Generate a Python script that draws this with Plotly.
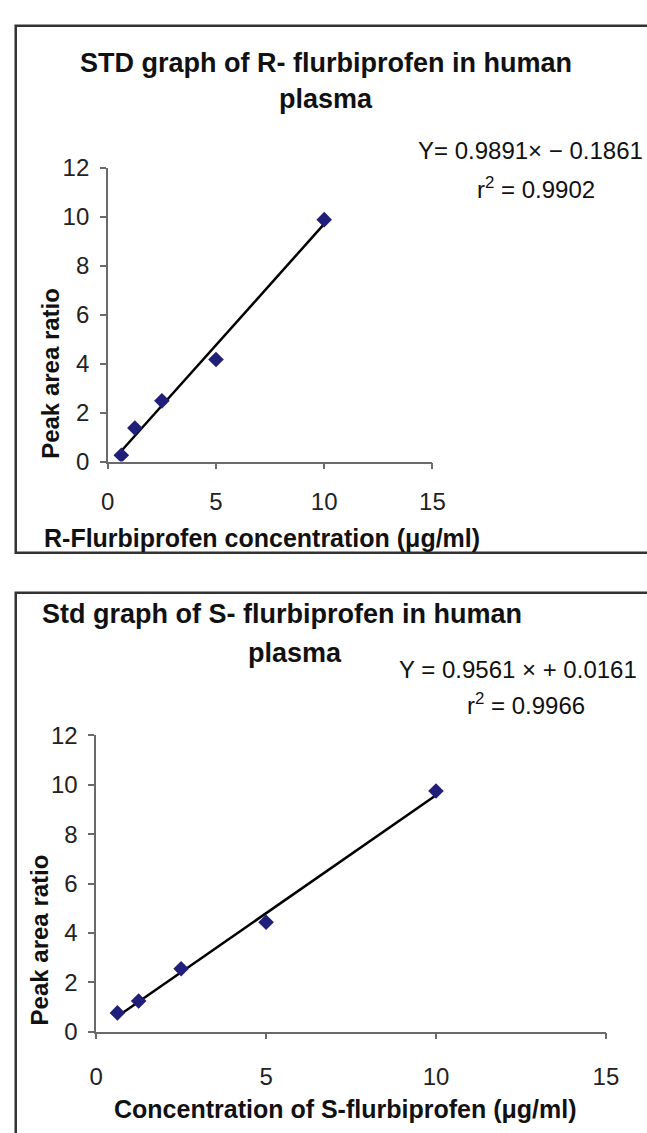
import plotly.graph_objects as go

W, H = 647, 1133

# ---- data ----
conc_r = [0.625, 1.25, 2.5, 5, 10]
ratio_r = [0.26, 1.37, 2.48, 4.17, 9.88]
slope_r, icpt_r = 0.9891, -0.1861

conc_s = [0.625, 1.25, 2.5, 5, 10]
ratio_s = [0.76, 1.24, 2.55, 4.43, 9.75]
slope_s, icpt_s = 0.9561, 0.0161

x_ticks = [0, 5, 10, 15]
y_ticks = [0, 2, 4, 6, 8, 10, 12]

FONT = "Liberation Sans, Arial, sans-serif"
MARK = "#20207a"
AX = "#6a6a6a"


def px(xp):
    return xp / W


def py(yp):
    return 1 - yp / H


fig = go.Figure()

# trend lines from the printed equations
for conc, ratio, m, b, xa, ya in [
    (conc_r, ratio_r, slope_r, icpt_r, "x", "y"),
    (conc_s, ratio_s, slope_s, icpt_s, "x2", "y2"),
]:
    xs = [min(conc), max(conc)]
    fig.add_trace(go.Scatter(x=xs, y=[m * v + b for v in xs], mode="lines",
                             line=dict(color="black", width=2.5),
                             xaxis=xa, yaxis=ya, showlegend=False, hoverinfo="skip"))
    fig.add_trace(go.Scatter(x=conc, y=ratio, mode="markers",
                             marker=dict(symbol="diamond", size=12, color=MARK),
                             xaxis=xa, yaxis=ya, showlegend=False))

axis_common = dict(showline=True, linecolor=AX, linewidth=1.5, ticks="outside",
                   ticklen=6, tickwidth=1.5, tickcolor=AX, showgrid=False,
                   zeroline=False, tickfont=dict(family=FONT, size=24, color="#222"))

fig.update_layout(
    width=W, height=H, margin=dict(l=0, r=0, t=0, b=0),
    paper_bgcolor="white", plot_bgcolor="white", showlegend=False,
    xaxis=dict(domain=[px(104), px(439)], range=[0, 15], tickvals=x_ticks,
               anchor="y", ticklabelstandoff=12, **axis_common),
    yaxis=dict(domain=[py(458.5), py(157.5)], range=[0, 12], tickvals=y_ticks,
               anchor="x", ticklabelstandoff=6, **axis_common),
    xaxis2=dict(domain=[px(92), px(618)], range=[0, 15], tickvals=x_ticks,
                anchor="y2", ticklabelstandoff=17, **axis_common),
    yaxis2=dict(domain=[py(1042.5), py(739)], range=[0, 12], tickvals=y_ticks,
                anchor="x2", ticklabelstandoff=6, **axis_common),
)

# panel borders
fig.add_shape(type="rect", xref="paper", yref="paper", x0=px(9), x1=px(670),
              y0=py(552), y1=py(12), line=dict(color="#333", width=2.5))
fig.add_shape(type="rect", xref="paper", yref="paper", x0=px(9), x1=px(670),
              y0=py(1160), y1=py(593), line=dict(color="#333", width=2.5))


def txt(x, y, s, size, angle=0, xanchor="center"):
    fig.add_annotation(x=px(x), y=py(y), xref="paper", yref="paper", text=s,
                       showarrow=False, textangle=angle, xanchor=xanchor,
                       yanchor="middle",
                       font=dict(family=FONT, size=size, color="#111"))


def B(s):
    return "<b>" + s + "</b>"


# top panel texts
txt(329, 50, B("STD graph of R- flurbiprofen in human"), 27)
txt(329, 87, B("plasma"), 27)
txt(540, 140, "Y= 0.9891× − 0.1861", 24)
txt(546, 178, "r<sup>2</sup> = 0.9902", 24)
txt(263, 537, B("R-Flurbiprofen concentration (μg/ml)"), 25)
txt(45, 368, B("Peak area ratio"), 24, angle=-90)

# bottom panel texts
txt(284, 615, B("Std graph of S- flurbiprofen in human"), 27)
txt(297, 655, B("plasma"), 27)
txt(527, 672, "Y = 0.9561 × + 0.0161", 24)
txt(536, 707, "r<sup>2</sup> = 0.9966", 24)
txt(349, 1122, B("Concentration of S-flurbiprofen (μg/ml)"), 25)
txt(33, 948, B("Peak area ratio"), 24, angle=-90)

fig.write_html("out.html")
